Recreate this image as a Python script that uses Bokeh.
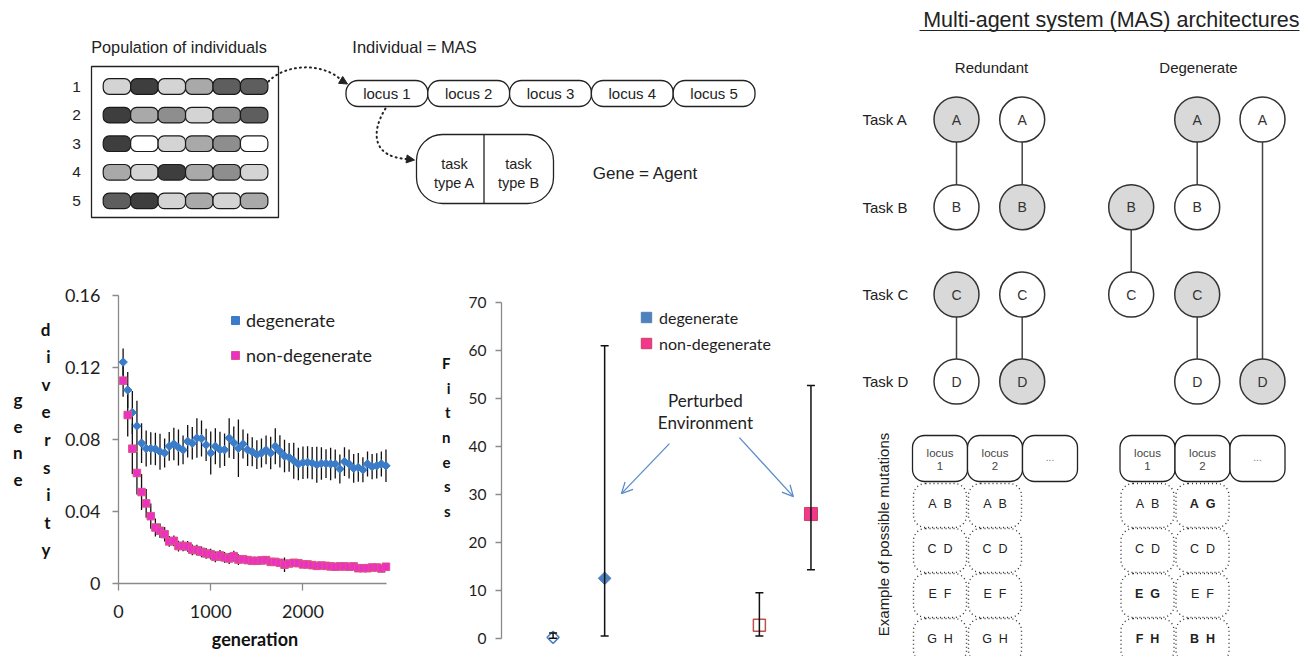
import math
from bokeh.plotting import figure
from bokeh.layouts import row, column
from bokeh.models import (Range1d, FixedTicker, CustomJSTickFormatter, Legend, LegendItem,
                          Label, Arrow, OpenHead, NormalHead, TeeHead, Whisker, ColumnDataSource,
                          LinearAxis)
from bokeh.embed import file_html
from bokeh.resources import INLINE
from bokeh.core.properties import value

# ---------------- data: gene diversity vs generation ----------------
generation = list(range(50, 2901, 50))
degenerate_div = [0.123, 0.1075, 0.095, 0.0875, 0.078, 0.075, 0.075, 0.0747, 0.0732, 0.0725,
                  0.0762, 0.0775, 0.0756, 0.0742, 0.079, 0.0779, 0.0808, 0.0805, 0.077, 0.0725,
                  0.0762, 0.0743, 0.0743, 0.0808, 0.0782, 0.0751, 0.0775, 0.0743, 0.0732, 0.0716,
                  0.0725, 0.0742, 0.0725, 0.0762, 0.0734, 0.0708, 0.0701, 0.0682, 0.0664, 0.0671,
                  0.0673, 0.0669, 0.066, 0.0667, 0.0666, 0.0664, 0.0664, 0.0636, 0.0677, 0.0664,
                  0.064, 0.0645, 0.0632, 0.0664, 0.0649, 0.0654, 0.0664, 0.0654]
degenerate_err = [0.0075, 0.010, 0.012, 0.014, 0.011, 0.010, 0.009, 0.009, 0.010, 0.008,
                  0.008, 0.009, 0.010, 0.008, 0.009, 0.009, 0.011, 0.010, 0.009, 0.012,
                  0.010, 0.010, 0.009, 0.011, 0.009, 0.016, 0.008, 0.009, 0.008, 0.008,
                  0.008, 0.008, 0.009, 0.010, 0.009, 0.009, 0.008, 0.010, 0.009, 0.009,
                  0.009, 0.009, 0.010, 0.009, 0.008, 0.009, 0.008, 0.008, 0.008, 0.008,
                  0.008, 0.008, 0.007, 0.007, 0.007, 0.007, 0.007, 0.009]
nondegenerate_div = [0.1127, 0.0936, 0.0749, 0.0614, 0.0508, 0.0445, 0.0374, 0.0311, 0.0293, 0.0274,
                     0.0234, 0.0237, 0.0208, 0.0209, 0.0206, 0.0187, 0.0185, 0.0176, 0.0167, 0.0163,
                     0.0148, 0.0156, 0.0145, 0.0139, 0.0152, 0.0133, 0.0135, 0.013, 0.0126, 0.0126,
                     0.0128, 0.013, 0.012, 0.012, 0.0115, 0.0104, 0.0111, 0.0115, 0.0113, 0.0106,
                     0.0106, 0.0102, 0.0098, 0.01, 0.0098, 0.0095, 0.0093, 0.0095, 0.0095, 0.0093,
                     0.0095, 0.0085, 0.0085, 0.0085, 0.0089, 0.0089, 0.0083, 0.0093]
nondegenerate_err = [0.009, 0.012, 0.014, 0.012, 0.010, 0.008, 0.007, 0.005, 0.004, 0.004,
                     0.003, 0.003, 0.003, 0.003, 0.003, 0.003, 0.003, 0.003, 0.003, 0.003,
                     0.003, 0.003, 0.003, 0.003, 0.003, 0.003, 0.002, 0.002, 0.002, 0.002,
                     0.002, 0.002, 0.002, 0.002, 0.002, 0.004, 0.002, 0.002, 0.002, 0.002,
                     0.002, 0.002, 0.002, 0.002, 0.002, 0.002, 0.002, 0.002, 0.002, 0.002,
                     0.002, 0.002, 0.002, 0.002, 0.002, 0.002, 0.002, 0.002]
diversity_ticks = [0, 0.04, 0.08, 0.12, 0.16]
generation_ticks = [0, 1000, 2000]

# ---------------- data: fitness ----------------
fitness_groups = ["degenerate", "non-degenerate"]
normal_slot = [1, 5]
perturbed_slot = [2, 6]
normal_fitness = [0.2, 2.7]
normal_low = [0.0, 0.5]
normal_high = [1.1, 9.5]
perturbed_fitness = [12.5, 25.9]
perturbed_low = [0.5, 14.3]
perturbed_high = [61.0, 52.7]
fitness_ticks = [0, 10, 20, 30, 40, 50, 60, 70]

# ---------------- data: diagrams ----------------
population = [[1, 5, 1, 2, 4, 4],
              [5, 2, 3, 1, 3, 4],
              [5, 0, 1, 2, 3, 0],
              [2, 1, 5, 2, 3, 1],
              [4, 5, 1, 2, 1, 2]]
shade_palette = ["#FFFFFF", "#D4D4D4", "#A9A9A9", "#8E8E8E", "#5E5E5E", "#3E3E3E"]
loci = ["locus 1", "locus 2", "locus 3", "locus 4", "locus 5"]
tasks = ["A", "B", "C", "D"]
# (column, task, shaded)
nodes = [(0, "A", 1), (0, "B", 0), (0, "C", 1), (0, "D", 0),
         (1, "A", 0), (1, "B", 1), (1, "C", 0), (1, "D", 1),
         (2, "B", 1), (2, "C", 0),
         (3, "A", 1), (3, "B", 0), (3, "C", 1), (3, "D", 0),
         (4, "A", 0), (4, "D", 1)]
links = [(0, "A", "B"), (0, "C", "D"), (1, "A", "B"), (1, "C", "D"),
         (2, "B", "C"), (3, "A", "B"), (3, "C", "D"), (4, "A", "D")]
redundant_mut = [[("AB", 0), ("AB", 0)], [("CD", 0), ("CD", 0)],
                 [("EF", 0), ("EF", 0)], [("GH", 0), ("GH", 0)]]
degenerate_mut = [[("AB", 0), ("AG", 1)], [("CD", 0), ("CD", 0)],
                  [("EG", 1), ("EF", 0)], [("FH", 1), ("BH", 1)]]

CH = "Lato"
DF = value("Liberation Sans")
INK = "#222222"
GAP = "\u00a0\u00a0"


def style_canvas(fig):
    fig.outline_line_color = None
    fig.background_fill_color = "white"
    fig.border_fill_color = "white"


def dtext(fig, xs, ys, texts, size, align="center", baseline="middle", color=INK,
          style="normal", angle=0.0):
    fig.text(x=xs, y=ys, text=texts, text_font=DF, text_font_size=value(f"{size}px"),
             text_align=align, text_baseline=baseline, text_color=color,
             text_font_style=style, angle=angle)


def stacked_axis(fig, word, standoff, size, line_ratio, trailing=0):
    ax = LinearAxis(ticker=FixedTicker(ticks=[]), axis_line_color=None,
                    major_tick_line_color=None, minor_tick_line_color=None,
                    major_label_text_font_size="0px")
    ax.axis_label = "\n".join(list(word) + [" "] * trailing)
    ax.axis_label_orientation = "horizontal"
    ax.axis_label_standoff = standoff
    ax.axis_label_text_font = CH
    ax.axis_label_text_font_style = "bold"
    ax.axis_label_text_font_size = f"{size}px"
    ax.axis_label_text_line_height = line_ratio
    ax.axis_label_text_color = "#111111"
    ax.axis_label_text_align = "center"
    fig.add_layout(ax, "left")
    return ax


# =============== top diagram (page x 0..848, y 0..270) ===============
top = figure(width=848, height=270, x_range=Range1d(0, 848), y_range=Range1d(270, 0),
             x_axis_type=None, y_axis_type=None, output_backend="svg",
             toolbar_location=None, min_border=0)
style_canvas(top)

dtext(top, [178.5], [46], ["Population of individuals"], 16.3)
dtext(top, [414], [46], ["Individual = MAS"], 16.5)
top.quad(left=[91], right=[278], top=[66], bottom=[217], fill_color=None,
         line_color=INK, line_width=1.3)

pw, ph, row0, rstep, col0 = 27.45, 15.6, 86.0, 28.6, 102.7
pl, pr, pt, pb, pc = [], [], [], [], []
for i, genes in enumerate(population):
    yc = row0 + i * rstep
    for j, g in enumerate(genes):
        pl.append(col0 + j * pw)
        pr.append(col0 + (j + 1) * pw)
        pt.append(yc - ph / 2)
        pb.append(yc + ph / 2)
        pc.append(shade_palette[g])
top.quad(left=pl, right=pr, top=pt, bottom=pb, fill_color=pc, line_color="#1a1a1a",
         line_width=1.2, border_radius=6)
dtext(top, [76] * 5, [row0 + i * rstep for i in range(5)],
      [str(i + 1) for i in range(5)], 15.5)

lw, l0 = 81.8, 345.5
top.quad(left=[l0 + k * lw for k in range(5)], right=[l0 + (k + 1) * lw for k in range(5)],
         top=[80] * 5, bottom=[106] * 5, fill_color="white", line_color=INK,
         line_width=1.3, border_radius=12)
dtext(top, [l0 + (k + 0.5) * lw for k in range(5)], [93] * 5, loci, 15)

# dotted connectors
top.bezier(x0=[268], y0=[81], x1=[343], y1=[82], cx0=[286], cy0=[62], cx1=[326], cy1=[62],
           line_color=INK, line_width=2, line_dash="1 4", line_cap="round")
top.add_layout(Arrow(x_start=337, y_start=77.5, x_end=347, y_end=83.5, line_alpha=0,
                     end=NormalHead(size=8, fill_color=INK, line_color=INK)))
top.bezier(x0=[385], y0=[108], x1=[407], y1=[158.5], cx0=[370], cy0=[132], cx1=[372], cy1=[157],
           line_color=INK, line_width=2, line_dash="1 4", line_cap="round")
top.add_layout(Arrow(x_start=403, y_start=158, x_end=414, y_end=159.5, line_alpha=0,
                     end=NormalHead(size=8, fill_color=INK, line_color=INK)))

top.quad(left=[416], right=[553], top=[134], bottom=[203], fill_color="white",
         line_color=INK, line_width=1.3, border_radius=26)
top.segment(x0=[483.5], y0=[134], x1=[483.5], y1=[203], line_color=INK, line_width=1.3)
dtext(top, [454, 454, 518, 518], [163, 182.5, 163, 182.5],
      ["task", "type A", "task", "type B"], 14.5)
dtext(top, [645], [172.5], ["Gene = Agent"], 17)

# =============== gene diversity chart (page x 0..428, y 270..656) ===============
p1 = figure(width=428, height=386, x_range=Range1d(0, 2960), y_range=Range1d(0, 0.16),
            output_backend="svg", toolbar_location=None,
            min_border_left=118, min_border_right=37, min_border_top=25, min_border_bottom=73)
style_canvas(p1)
p1.grid.visible = False
for ax in (p1.xaxis[0], p1.yaxis[0]):
    ax.axis_line_color = "#8a8a8a"
    ax.axis_line_width = 1.3
    ax.major_tick_line_color = "#8a8a8a"
    ax.major_tick_line_width = 1.3
    ax.minor_tick_line_color = None
    ax.major_tick_in = 0
    ax.major_label_text_font = CH
    ax.major_label_text_font_size = "18px"
    ax.major_label_text_color = "#1e1e1e"
p1.yaxis.ticker = FixedTicker(ticks=diversity_ticks)
p1.yaxis.formatter = CustomJSTickFormatter(code="return tick == 0 ? '0' : tick.toFixed(2);")
p1.yaxis.major_tick_out = 6
p1.yaxis.major_label_standoff = 12
p1.xaxis.ticker = FixedTicker(ticks=generation_ticks)
p1.xaxis.major_tick_out = 7
p1.xaxis.major_label_standoff = 14
p1.xaxis.bounds = (0, 2910)
p1.xaxis.axis_label = "generation"
p1.xaxis.axis_label_standoff = 7
p1.xaxis.axis_label_text_font = CH
p1.xaxis.axis_label_text_font_style = "bold"
p1.xaxis.axis_label_text_font_size = "18px"
p1.xaxis.axis_label_text_color = "#111111"
stacked_axis(p1, "diversity", 11, 17, 1.31)
stacked_axis(p1, "gene", 15, 17, 1.28)


def lo_hi(v, e):
    return [a - b for a, b in zip(v, e)], [a + b for a, b in zip(v, e)]


dl, dh = lo_hi(degenerate_div, degenerate_err)
nl, nh = lo_hi(nondegenerate_div, nondegenerate_err)
p1.segment(x0=generation, y0=dl, x1=generation, y1=dh, line_color="#111111", line_width=1.3)
p1.segment(x0=generation, y0=nl, x1=generation, y1=nh, line_color="#111111", line_width=1.3)
r_deg = p1.scatter(generation, degenerate_div, marker="square", angle=math.pi / 4, size=6,
                   fill_color="#3b7cc9", line_color="#3b7cc9")
r_nd = p1.scatter(generation, nondegenerate_div, marker="square", size=7.5,
                  fill_color="#ee2fc6", line_color="#d9577f", line_width=1)
leg1 = Legend(items=[LegendItem(label="degenerate", renderers=[r_deg]),
                     LegendItem(label="non-degenerate", renderers=[r_nd])],
              location=(107, 217), orientation="vertical", glyph_width=20, glyph_height=20,
              label_height=20, spacing=13, padding=0, margin=0, label_standoff=1,
              border_line_color=None, background_fill_alpha=0,
              label_text_font=CH, label_text_font_size="18px", label_text_color="#1e1e1e")
p1.add_layout(leg1)

# =============== fitness chart (page x 428..848, y 270..656) ===============
p2 = figure(width=420, height=386, x_range=Range1d(0, 6.34), y_range=Range1d(-1.5, 70),
            x_axis_type=None, output_backend="svg", toolbar_location=None,
            min_border_left=73, min_border_right=20, min_border_top=32, min_border_bottom=11)
style_canvas(p2)
p2.grid.visible = False
ya = p2.yaxis[0]
ya.ticker = FixedTicker(ticks=fitness_ticks)
ya.bounds = (0, 70)
ya.axis_line_color = "#8a8a8a"
ya.axis_line_width = 1.3
ya.major_tick_line_color = "#8a8a8a"
ya.major_tick_line_width = 1.3
ya.minor_tick_line_color = None
ya.major_tick_in = 0
ya.major_tick_out = 6
ya.major_label_standoff = 9
ya.major_label_text_font = CH
ya.major_label_text_font_size = "15.5px"
ya.major_label_text_color = "#1e1e1e"
stacked_axis(p2, "Fitness", 15, 15, 1.37, trailing=3)

err_src = ColumnDataSource(dict(x=normal_slot + perturbed_slot,
                                lo=normal_low + perturbed_low,
                                hi=normal_high + perturbed_high))
p2.add_layout(Whisker(source=err_src, base="x", lower="lo", upper="hi", dimension="height",
                      line_color="#111111", line_width=1.5, level="glyph",
                      upper_head=TeeHead(size=8, line_color="#111111", line_width=1.5),
                      lower_head=TeeHead(size=8, line_color="#111111", line_width=1.5)))
p2.scatter([normal_slot[0]], [normal_fitness[0]], marker="square", angle=math.pi / 4, size=8.5,
           fill_color="white", line_color="#4f81bd", line_width=1.5)
p2.scatter([normal_slot[1]], [normal_fitness[1]], marker="square", size=12,
           fill_color="white", line_color="#c0504d", line_width=1.5)
r2d = p2.scatter([perturbed_slot[0]], [perturbed_fitness[0]], marker="square", angle=math.pi / 4,
                 size=9, fill_color="#4f81bd", line_color="#4f81bd")
r2s = p2.scatter([perturbed_slot[1]], [perturbed_fitness[1]], marker="square", size=13,
                 fill_color="#f2378c", line_color="#c8405e", line_width=1)
leg2 = Legend(items=[LegendItem(label=fitness_groups[0], renderers=[r2d]),
                     LegendItem(label=fitness_groups[1], renderers=[r2s])],
              location=(132, 289), orientation="vertical", glyph_width=26, glyph_height=26,
              label_height=26, spacing=0, padding=0, margin=0, label_standoff=0,
              border_line_color=None, background_fill_alpha=0,
              label_text_font=CH, label_text_font_size="16px", label_text_color="#1e1e1e")
p2.add_layout(leg2)

X2 = lambda px: (px - 501.0) / 51.6
Y2 = lambda py: (637.7 - py) / 4.797
for txt_, py in (("Perturbed", 400), ("Environment", 422)):
    p2.add_layout(Label(x=X2(705), y=Y2(py), text=txt_, text_font=CH, text_font_size="17px",
                        text_align="center", text_baseline="middle", text_color="#222222"))
for (xa, ya_, xb, yb) in ((669, 443, 621, 493), (739, 437, 793, 496)):
    p2.add_layout(Arrow(x_start=X2(xa), y_start=Y2(ya_), x_end=X2(xb), y_end=Y2(yb),
                        line_color="#5b8bc9", line_width=1.3,
                        end=OpenHead(size=11, line_color="#5b8bc9", line_width=1.3)))

# =============== right diagram (page x 848..1302, y 0..656) ===============
rp = figure(width=454, height=656, x_range=Range1d(848, 1302), y_range=Range1d(656, 0),
            x_axis_type=None, y_axis_type=None, output_backend="svg",
            toolbar_location=None, min_border=0)
style_canvas(rp)
title_txt = "Multi-agent system (MAS) architectures"
dtext(rp, [1299], [19], [title_txt], 21.5, align="right")
rp.segment(x0=[919], y0=[30], x1=[1299], y1=[30], line_color=INK, line_width=1.2)
dtext(rp, [991, 1198], [67, 67], ["Redundant", "Degenerate"], 15)
col_x = [956, 1021.7, 1130.7, 1196.7, 1262]
task_y = {"A": 119, "B": 206.7, "C": 294, "D": 381}
dtext(rp, [862] * 4, [task_y[t] for t in tasks], ["Task " + t for t in tasks], 15, align="left")
rp.segment(x0=[col_x[c] for c, a, b in links], y0=[task_y[a] for c, a, b in links],
           x1=[col_x[c] for c, a, b in links], y1=[task_y[b] for c, a, b in links],
           line_color="#444444", line_width=1.5)
rp.scatter([col_x[c] for c, t, s in nodes], [task_y[t] for c, t, s in nodes], size=45,
           fill_color=["#d9d9d9" if s else "white" for c, t, s in nodes],
           line_color="#333333", line_width=1.5)
dtext(rp, [col_x[c] for c, t, s in nodes], [task_y[t] for c, t, s in nodes],
      [t for c, t, s in nodes], 14, color="#333333")

dtext(rp, [883], [534], ["Example of possible mutations"], 15, angle=math.pi / 2)
for x0, muts in ((912, redundant_mut), (1119.5, degenerate_mut)):
    cw = 55
    rp.quad(left=[x0 + k * cw for k in range(3)], right=[x0 + (k + 1) * cw for k in range(3)],
            top=[435] * 3, bottom=[481] * 3, fill_color="white", line_color=INK,
            line_width=1.3, border_radius=12)
    dtext(rp, [x0 + 0.5 * cw, x0 + 1.5 * cw, x0 + 0.5 * cw, x0 + 1.5 * cw],
          [452, 452, 465.5, 465.5], ["locus", "locus", "1", "2"], 11.5, color="#444444")
    dtext(rp, [x0 + 2.5 * cw], [456], ["..."], 10, color="#777777")
    cl, cr, ct, cb, cx_, cy_, ctext, cbold = [], [], [], [], [], [], [], []
    for r, rowm in enumerate(muts):
        for k, (t, b) in enumerate(rowm):
            cl.append(x0 + k * cw + 1)
            cr.append(x0 + (k + 1) * cw - 1)
            ct.append(483 + r * 45)
            cb.append(527 + r * 45)
            cx_.append(x0 + (k + 0.5) * cw)
            cy_.append(503 + r * 45)
            ctext.append(t[0] + GAP + t[1])
            cbold.append("bold" if b else "normal")
    rp.quad(left=cl, right=cr, top=ct, bottom=cb, fill_color=None, line_color="#333333",
            line_width=1.4, line_dash="1 3", border_radius=12)
    rp.text(x=cx_, y=cy_, text=ctext, text_font=DF, text_font_size=value("12.5px"),
            text_align="center", text_baseline="middle", text_color="#222222",
            text_font_style=cbold)

layout = row(column(top, row(column(p1), column(p2))), rp)
open("out.html", "w").write(file_html(layout, INLINE))
